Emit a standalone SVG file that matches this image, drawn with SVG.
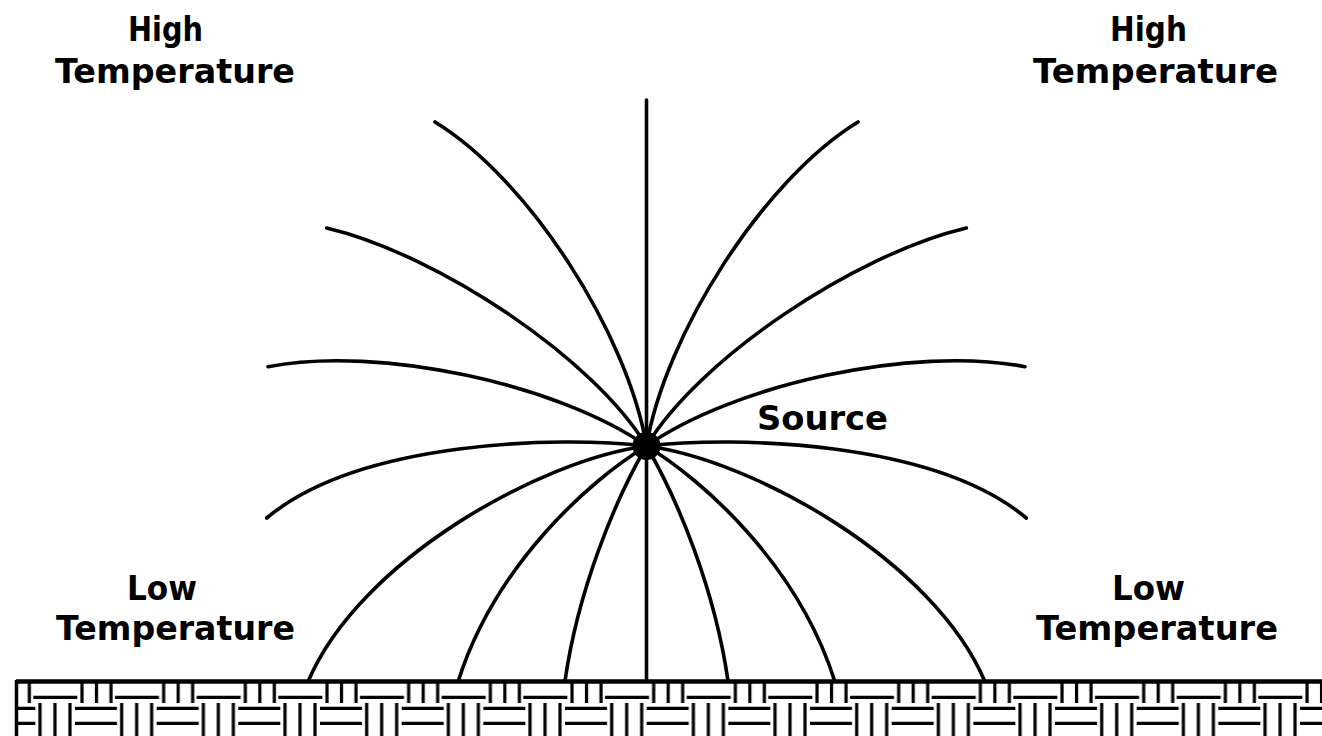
<svg xmlns="http://www.w3.org/2000/svg" width="1322" height="736" viewBox="0 0 1322 736">
  <style>
    .lbl { font-family: "DejaVu Sans", "Liberation Sans", sans-serif; font-weight: bold; font-size: 33px; fill: #000; }
    .fl { fill: none; stroke: #000; stroke-width: 3.6; stroke-linecap: round; }
    .wv { stroke: #000; stroke-width: 3.2; fill: none; }
  </style>
  <defs>
    <pattern id="weave" patternUnits="userSpaceOnUse" x="-5.67" y="681" width="81.67" height="55">
      <rect width="81.67" height="55" fill="#fff"/>
      <path class="wv" d="M6,0V22 M20.5,0V22 M35,0V22 M39,16.3H81.67 M0,16.3H1.33 M45.67,22V55 M60.67,22V55 M75.67,22V55 M0,27.3H41 M80.67,27.3H81.67 M0,42.3H41 M80.67,42.3H81.67"/>
    </pattern>
  </defs>
  <rect width="1322" height="736" fill="#fff"/>

  <g id="ground">
    <rect x="16" y="681" width="1306" height="55" fill="url(#weave)"/>
    <line x1="16" y1="681.5" x2="1322" y2="681.5" stroke="#000" stroke-width="4.5"/>
    <line x1="16.5" y1="680" x2="16.5" y2="736" stroke="#000" stroke-width="3.5"/>
  </g>

  <g id="field-lines">
    <path class="fl" d="M646.5,100V681"/>
    <path class="fl" d="M435,122 C530,180 628,335 646.5,446"/>
    <path class="fl" d="M326.7,228 C440,255 595,360 646.5,446"/>
    <path class="fl" d="M268,366.7 C380,345 560,385 646.5,446"/>
    <path class="fl" d="M266.7,518 C360,440 560,436 646.5,446"/>
    <path class="fl" d="M308.3,681 C360,560 540,460 646.5,446"/>
    <path class="fl" d="M458.3,681 C495,565 590,480 646.5,446"/>
    <path class="fl" d="M565,681 C578,590 615,500 646.5,446"/>
    <path class="fl" d="M858,122 C763,180 665,335 646.5,446"/>
    <path class="fl" d="M966.3,228 C853,255 698,360 646.5,446"/>
    <path class="fl" d="M1025,366.7 C913,345 733,385 646.5,446"/>
    <path class="fl" d="M1026.3,518 C933,440 733,436 646.5,446"/>
    <path class="fl" d="M984.7,681 C933,560 753,460 646.5,446"/>
    <path class="fl" d="M834.7,681 C798,565 703,480 646.5,446"/>
    <path class="fl" d="M728,681 C715,590 678,500 646.5,446"/>
  </g>

  <g id="source">
    <circle cx="646.5" cy="446" r="14" fill="#000"/>
    <text class="lbl" x="757" y="430" textLength="131" lengthAdjust="spacingAndGlyphs">Source</text>
  </g>

  <g id="high-left">
    <text class="lbl" x="128" y="41" textLength="75" lengthAdjust="spacingAndGlyphs">High</text>
    <text class="lbl" x="55" y="83" textLength="240" lengthAdjust="spacingAndGlyphs">Temperature</text>
  </g>
  <g id="high-right">
    <text class="lbl" x="1110" y="41" textLength="77" lengthAdjust="spacingAndGlyphs">High</text>
    <text class="lbl" x="1033" y="83" textLength="245" lengthAdjust="spacingAndGlyphs">Temperature</text>
  </g>
  <g id="low-left">
    <text class="lbl" x="127" y="600" textLength="70" lengthAdjust="spacingAndGlyphs">Low</text>
    <text class="lbl" x="56" y="640" textLength="239" lengthAdjust="spacingAndGlyphs">Temperature</text>
  </g>
  <g id="low-right">
    <text class="lbl" x="1112" y="600" textLength="73" lengthAdjust="spacingAndGlyphs">Low</text>
    <text class="lbl" x="1036" y="640" textLength="242" lengthAdjust="spacingAndGlyphs">Temperature</text>
  </g>
</svg>
